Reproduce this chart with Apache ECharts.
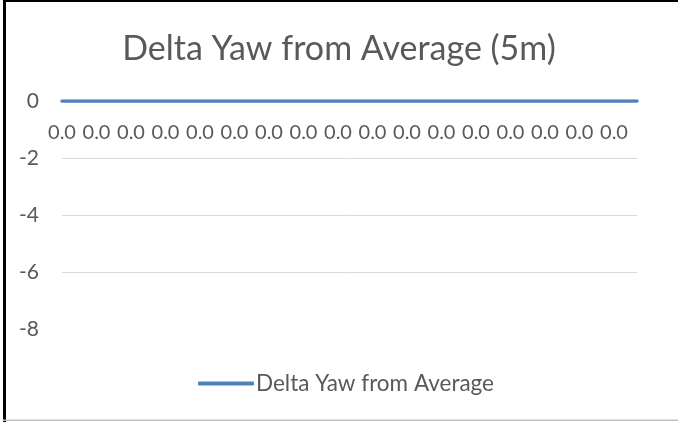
<!DOCTYPE html>
<html>
<head>
<meta charset="utf-8">
<script src="https://cdn.jsdelivr.net/npm/echarts@6/dist/echarts.min.js"></script>
<style>
  html, body { margin: 0; padding: 0; background: #fff; }
  #fig_delta_yaw { width: 678px; height: 422px; }
</style>
</head>
<body>
<div id="fig_delta_yaw"></div>
<script>
// categories (x labels) and values: all zero
var categories = [];
var yawDelta = [];
for (var i = 0; i < 51; i++) {
    categories.push('0.0');
    yawDelta.push(0);
}
var yTicks = [0, -2, -4, -6, -8];

var fig_delta_yaw = {
    plot_id: 'fig_delta_yaw',
    plot_chart: null,

    init: function() {
        this.option = {
            backgroundColor: '#fff',
            animation: false,
            title: {
                text: 'Delta Yaw from Average (5m)',
                left: 'center',
                top: 27,
                textStyle: {
                    fontFamily: 'Lato',
                    fontSize: 34,
                    fontWeight: 'normal',
                    color: '#595959'
                }
            },
            grid: {
                top: 101,
                right: 41,
                bottom: 36,
                left: 62
            },
            legend: {
                data: ['Delta Yaw from Average'],
                left: 193,
                top: 367,
                icon: 'roundRect',
                itemWidth: 56,
                itemHeight: 4,
                textStyle: {
                    fontFamily: 'Lato',
                    fontSize: 22.5,
                    color: '#595959',
                    padding: [0, 0, 0, -3]
                }
            },
            xAxis: {
                type: 'category',
                position: 'top',
                data: categories,
                boundaryGap: false,
                axisLine: { onZero: false, lineStyle: { color: '#d9d9d9' } },
                axisTick: { show: false },
                axisLabel: {
                    inside: true,
                    interval: 2,
                    margin: 22,
                    fontFamily: 'Lato',
                    fontSize: 20,
                    color: '#595959'
                }
            },
            yAxis: {
                type: 'value',
                min: -10,
                max: 0,
                interval: 2,
                axisLine: { show: false },
                axisTick: { show: false },
                axisLabel: {
                    showMinLabel: false,
                    margin: 23,
                    fontFamily: 'Lato',
                    fontSize: 21,
                    color: '#595959',
                    formatter: function(v) {
                        return yTicks.indexOf(v) >= 0 ? String(v) : '';
                    }
                },
                splitLine: {
                    showMinLine: false,
                    lineStyle: {
                        color: ['rgba(0,0,0,0)', '#d9d9d9', '#d9d9d9', '#d9d9d9', '#d9d9d9', '#d9d9d9'],
                        width: 1
                    }
                }
            },
            series: [{
                name: 'Delta Yaw from Average',
                type: 'line',
                data: yawDelta,
                symbol: 'none',
                lineStyle: { color: '#4f81bd', width: 3.5, cap: 'round' },
                itemStyle: { color: '#4f81bd' }
            }],
            graphic: [
                { type: 'rect', shape: { x: 3, y: 0, width: 3, height: 422 }, style: { fill: '#000' } },
                { type: 'rect', shape: { x: 3, y: 0, width: 675, height: 2 }, style: { fill: '#000' } },
                { type: 'rect', shape: { x: 3, y: 419.5, width: 675, height: 1.5 }, style: { fill: '#bfbfbf' } }
            ]
        };

        this.plot_chart = echarts.init(document.getElementById(this.plot_id));
        this.plot_chart.setOption(this.option);
    }
};

fig_delta_yaw.init();
</script>
</body>
</html>
